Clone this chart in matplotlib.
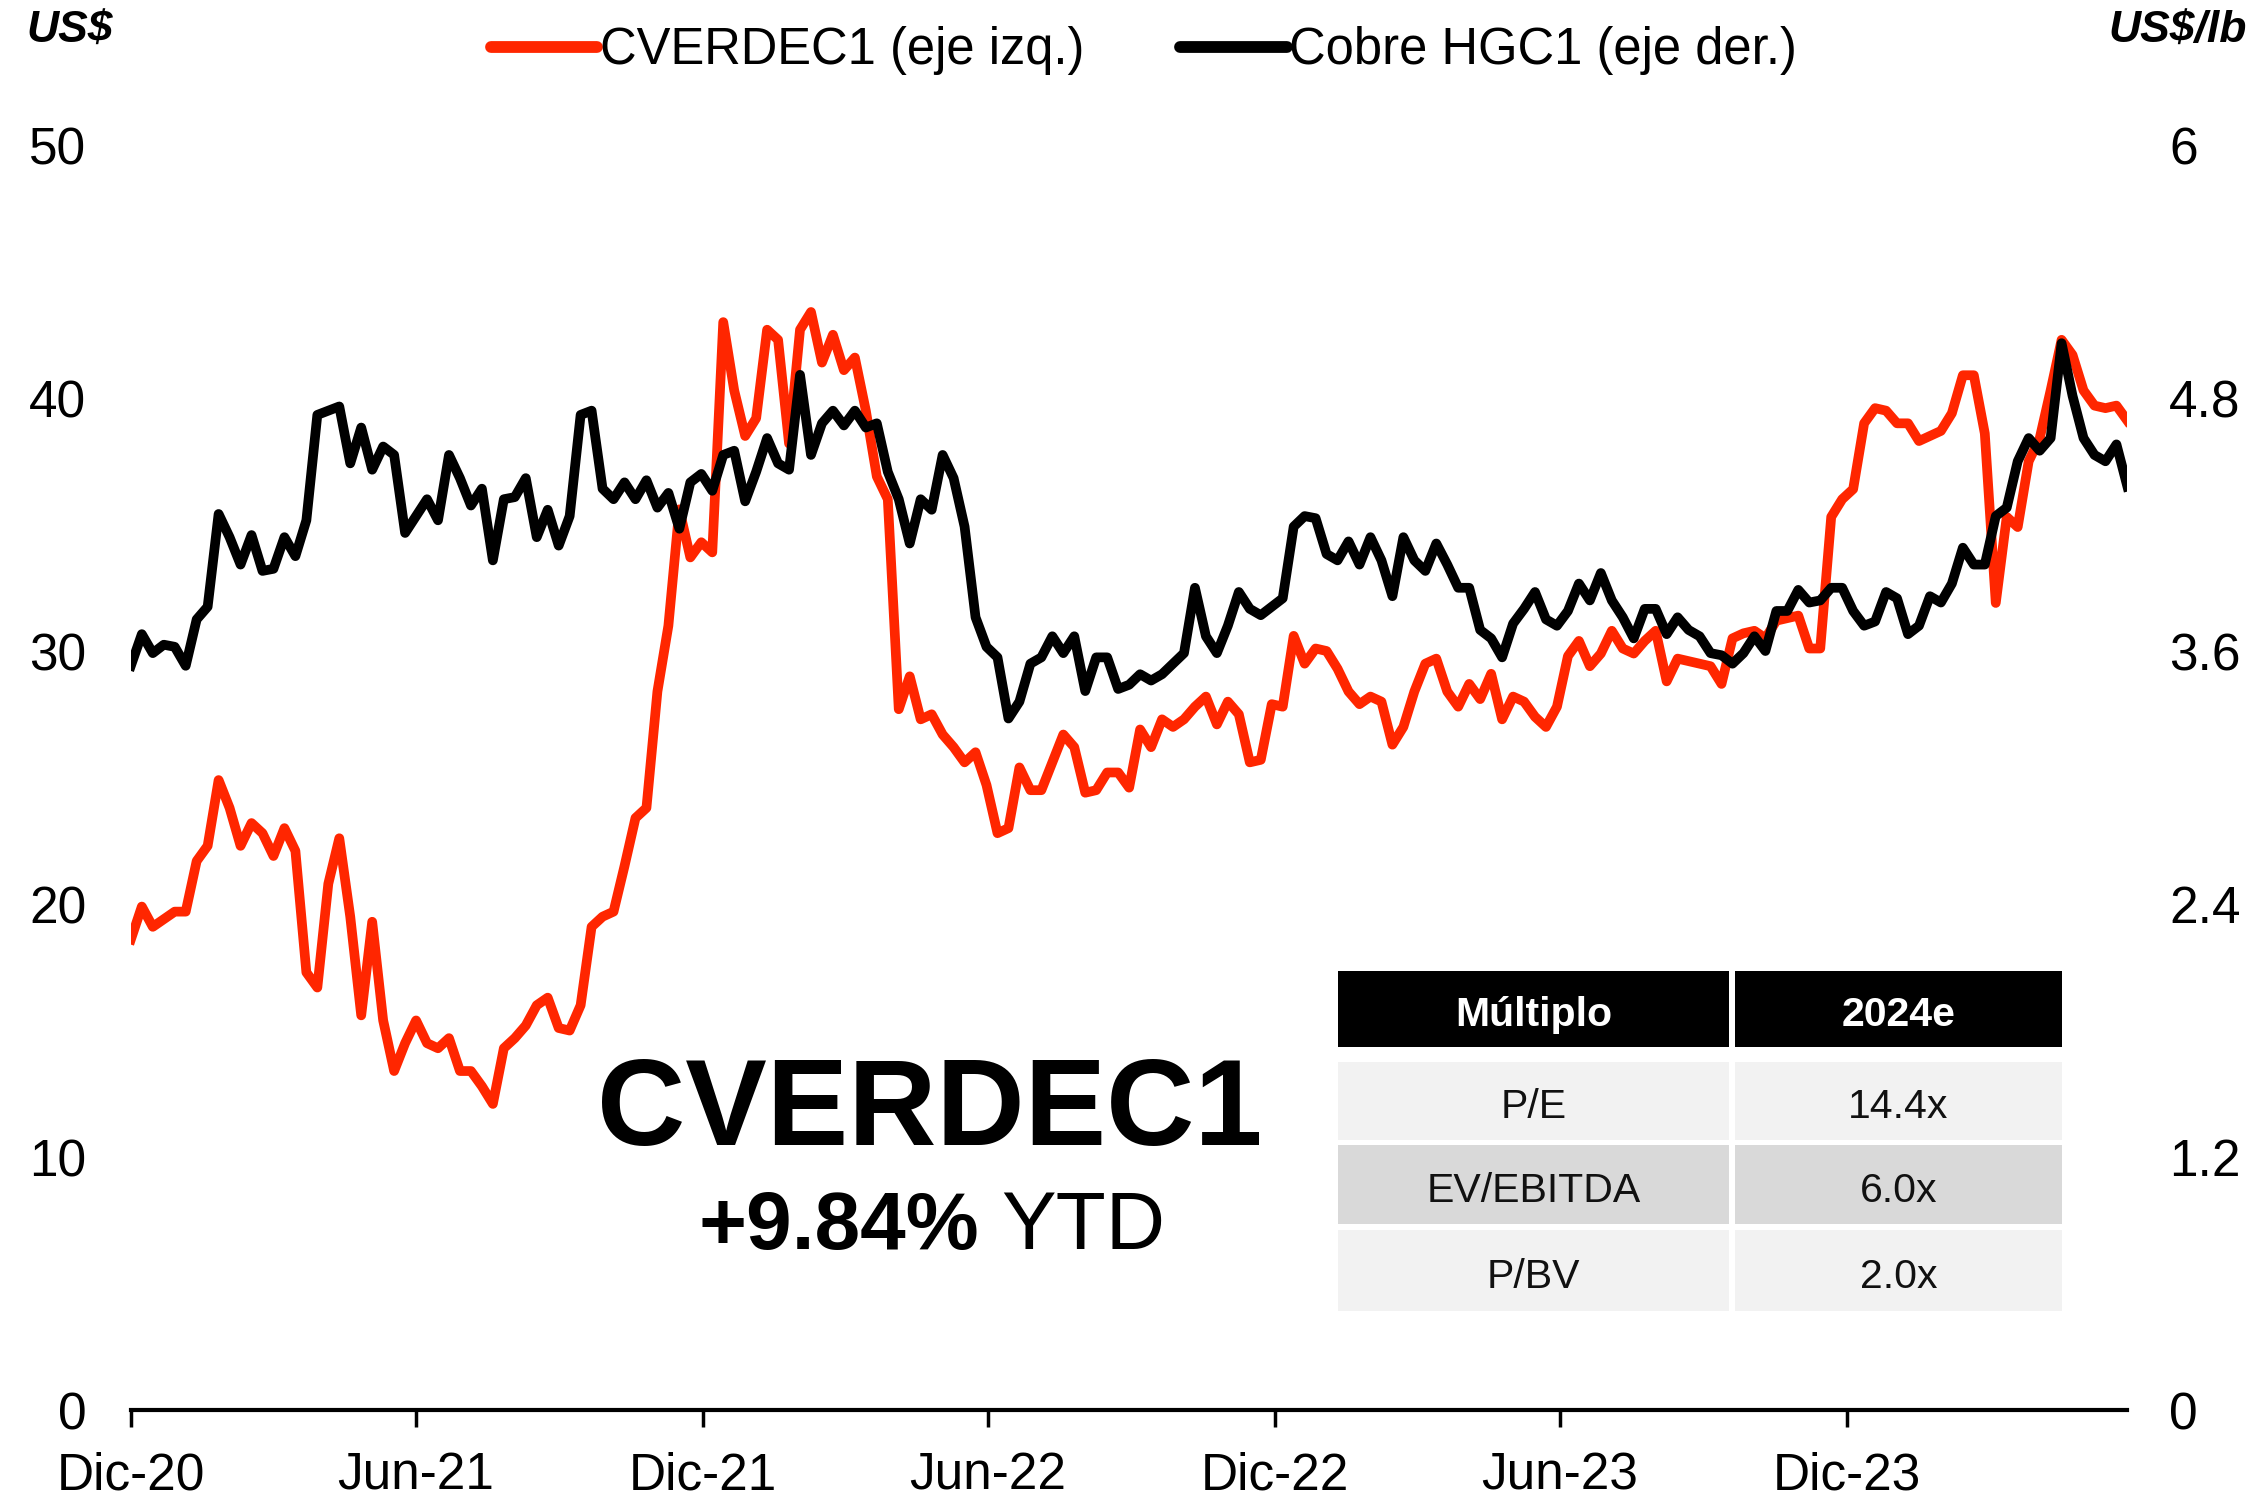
import matplotlib
matplotlib.use("Agg")
import matplotlib.pyplot as plt
import matplotlib.patches as mpatches
import pandas as pd

plt.rcParams['font.family'] = ['Liberation Sans', 'DejaVu Sans']

# weekly readings starting 1-dic-2020
start = "2020-12-01"

cverde = [18.6, 19.9, 19.1, 19.4, 19.7, 19.7, 21.7, 22.3, 24.9, 23.8,
          22.3, 23.2, 22.8, 21.9, 23.0, 22.1, 17.3, 16.7, 20.8, 22.6,
          19.5, 15.6, 19.3, 15.4, 13.4, 14.5, 15.4, 14.5, 14.3, 14.7,
          13.4, 13.4, 12.8, 12.1, 14.3, 14.7, 15.2, 16.0, 16.3, 15.1,
          15.0, 16.0, 19.1, 19.5, 19.7, 21.5, 23.4, 23.8, 28.4, 31.0,
          35.6, 33.7, 34.3, 33.9, 43.0, 40.3, 38.5, 39.2, 42.7, 42.3,
          38.2, 42.7, 43.4, 41.4, 42.5, 41.1, 41.6, 39.5, 36.9, 36.0,
          27.7, 29.0, 27.3, 27.5, 26.7, 26.2, 25.6, 26.0, 24.7, 22.8,
          23.0, 25.4, 24.5, 24.5, 25.6, 26.7, 26.2, 24.4, 24.5, 25.2,
          25.2, 24.6, 26.9, 26.2, 27.3, 27.0, 27.3, 27.8, 28.2, 27.1,
          28.0, 27.5, 25.6, 25.7, 27.9, 27.8, 30.6, 29.5, 30.1, 30.0,
          29.3, 28.4, 27.9, 28.2, 28.0, 26.3, 27.0, 28.4, 29.5, 29.7,
          28.4, 27.8, 28.7, 28.1, 29.1, 27.3, 28.2, 28.0, 27.4, 27.0,
          27.8, 29.8, 30.4, 29.4, 29.9, 30.8, 30.1, 29.9, 30.4, 30.8,
          28.8, 29.7, 29.6, 29.5, 29.4, 28.7, 30.5, 30.7, 30.8, 30.5,
          31.2, 31.3, 31.4, 30.1, 30.1, 35.3, 36.0, 36.4, 39.0, 39.6,
          39.5, 39.0, 39.0, 38.3, 38.5, 38.7, 39.4, 40.9, 40.9, 38.6,
          31.9, 35.3, 34.9, 37.5, 38.4, 40.3, 42.3, 41.7, 40.3, 39.7,
          39.6, 39.7, 39.1]

cobre = [3.53, 3.68, 3.59, 3.63, 3.62, 3.53, 3.75, 3.81, 4.25, 4.14,
         4.01, 4.15, 3.98, 3.99, 4.14, 4.05, 4.22, 4.72, 4.74, 4.76,
         4.49, 4.66, 4.46, 4.57, 4.53, 4.16, 4.24, 4.32, 4.22, 4.53,
         4.42, 4.29, 4.37, 4.03, 4.32, 4.33, 4.42, 4.14, 4.27, 4.10,
         4.24, 4.72, 4.74, 4.37, 4.32, 4.40, 4.32, 4.41, 4.28, 4.35,
         4.18, 4.40, 4.44, 4.36, 4.53, 4.55, 4.31, 4.45, 4.61, 4.49,
         4.46, 4.91, 4.53, 4.68, 4.74, 4.67, 4.74, 4.66, 4.68, 4.45,
         4.32, 4.11, 4.32, 4.27, 4.53, 4.42, 4.19, 3.76, 3.62, 3.57,
         3.28, 3.36, 3.54, 3.57, 3.67, 3.59, 3.67, 3.41, 3.57, 3.57,
         3.42, 3.44, 3.49, 3.46, 3.49, 3.54, 3.59, 3.90, 3.67, 3.59,
         3.72, 3.88, 3.80, 3.77, 3.81, 3.85, 4.19, 4.24, 4.23, 4.06,
         4.03, 4.12, 4.01, 4.14, 4.03, 3.86, 4.14, 4.03, 3.98, 4.11,
         4.01, 3.90, 3.90, 3.70, 3.66, 3.57, 3.73, 3.80, 3.88, 3.75,
         3.72, 3.79, 3.92, 3.84, 3.97, 3.84, 3.76, 3.66, 3.80, 3.80,
         3.68, 3.76, 3.70, 3.67, 3.59, 3.58, 3.54, 3.59, 3.67, 3.60,
         3.79, 3.79, 3.89, 3.83, 3.84, 3.90, 3.90, 3.79, 3.72, 3.74,
         3.88, 3.85, 3.68, 3.72, 3.86, 3.83, 3.92, 4.09, 4.01, 4.01,
         4.24, 4.28, 4.50, 4.61, 4.55, 4.61, 5.06, 4.81, 4.61, 4.53,
         4.50, 4.58, 4.38]

tick_dates = ["2020-12-01", "2021-06-01", "2021-12-01", "2022-06-01",
              "2022-12-01", "2023-06-01", "2023-12-01"]
tick_labels = ["Dic-20", "Jun-21", "Dic-21", "Jun-22", "Dic-22", "Jun-23", "Dic-23"]
left_ticks = [0, 10, 20, 30, 40, 50]
right_ticks = [0, 1.2, 2.4, 3.6, 4.8, 6]
right_labels = ["0", "1.2", "2.4", "3.6", "4.8", "6"]

table_head = ["Múltiplo", "2024e"]
table_names = ["P/E", "EV/EBITDA", "P/BV"]
table_vals = ["14.4x", "6.0x", "2.0x"]

dates = pd.date_range(start, periods=len(cverde), freq="7D")

RED = "#ff2600"
fig = plt.figure(figsize=(22.56, 14.98), dpi=100)
ax = fig.add_axes([0.058, 0.0587, 0.885, 0.8445])
ax2 = ax.twinx()

l1, = ax.plot(dates, cverde, color=RED, lw=7, solid_joinstyle="round")
l2, = ax2.plot(dates, cobre, color="black", lw=7, solid_joinstyle="round")

ax.set_xlim(dates[0], dates[-1])
ax.set_ylim(0, 50)
ax2.set_ylim(0, 6)
ax.set_yticks(left_ticks)
ax.set_yticklabels([str(t) for t in left_ticks])
ax2.set_yticks(right_ticks)
ax2.set_yticklabels(right_labels)
ax.set_xticks(pd.to_datetime(tick_dates))
ax.set_xticklabels(tick_labels)

for a in (ax, ax2):
    for s in ["top", "left", "right"]:
        a.spines[s].set_visible(False)
    a.spines["bottom"].set_linewidth(3)
ax2.spines["bottom"].set_visible(False)
ax.tick_params(axis="x", length=12, width=2.5, pad=18, labelsize=37)
ax.tick_params(axis="y", length=0, pad=32, labelsize=37)
ax2.tick_params(axis="y", length=0, pad=30, labelsize=37)

fig.text(0.0115, 0.979, "US$", fontsize=32, fontweight="bold", style="italic", va="center")
fig.text(0.996, 0.979, "US$/lb", fontsize=32, fontweight="bold", style="italic",
         va="center", ha="right")

fig.legend([l1, l2], ["CVERDEC1 (eje izq.)", "Cobre HGC1 (eje der.)"],
           loc="center", bbox_to_anchor=(0.507, 0.966), ncol=2, frameon=False,
           fontsize=36.5, handlelength=2.1, handletextpad=0.05, columnspacing=1.9)
for lh in fig.legends[0].get_lines():
    lh.set_linewidth(8.5)
    lh.set_solid_capstyle("round")

fig.text(0.412, 0.257, "CVERDEC1", fontsize=88, fontweight="bold", ha="center", va="center")
fig.text(0.434, 0.180, "+9.84%", fontsize=59, fontweight="bold", ha="right", va="center")
fig.text(0.444, 0.180, "YTD", fontsize=59, ha="left", va="center")

# tabla de múltiplos
H = 1498.0
W = 2256.0
cols = [(1338, 1729), (1735, 2062)]
rows = [(971, 1047), (1062, 1140), (1145, 1224), (1230, 1311)]
fills = ["black", "#f2f2f2", "#d9d9d9", "#f2f2f2"]
cells = [table_head] + [[n, v] for n, v in zip(table_names, table_vals)]
for r, (y0, y1) in enumerate(rows):
    for c, (x0, x1) in enumerate(cols):
        fig.add_artist(mpatches.Rectangle((x0 / W, 1 - y1 / H), (x1 - x0) / W, (y1 - y0) / H,
                                          transform=fig.transFigure, facecolor=fills[r],
                                          edgecolor="none"))
        ty = 1 - ((y0 + y1) / 2 + 6) / H
        if r == 0:
            fig.text((x0 + x1) / 2 / W, ty, cells[r][c], color="white",
                     fontsize=29.5, fontweight="bold", ha="center", va="center")
        else:
            fig.text((x0 + x1) / 2 / W, ty, cells[r][c], color="#111111",
                     fontsize=29.5, ha="center", va="center")

fig.savefig("out.png", dpi=100)
